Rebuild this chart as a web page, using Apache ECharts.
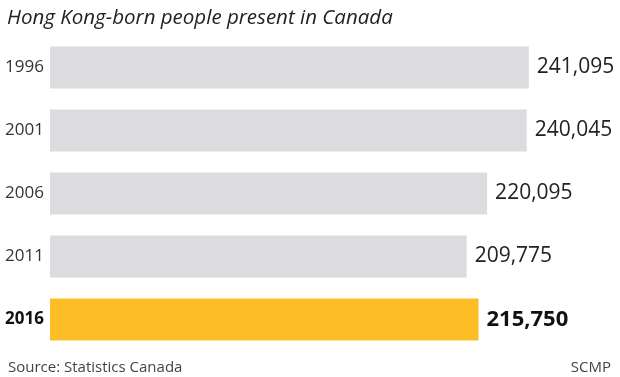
<!DOCTYPE html>
<html><head><meta charset="utf-8">
<script src="https://cdn.jsdelivr.net/npm/echarts@6/dist/echarts.min.js"></script>
<style>html,body{margin:0;padding:0;background:#fff}#c{width:620px;height:377px}</style>
</head><body><div id="c"></div>
<script>
const years = ['1996','2001','2006','2011','2016'];
const people = [241095, 240045, 220095, 209775, 215750];
const highlightYear = '2016';
const titleText = 'Hong Kong-born people present in Canada';
const sourceText = 'Source: Statistics Canada';
const creditText = 'SCMP';

const FONT = '"Open Sans", "Noto Sans", sans-serif';
const chart = echarts.init(document.getElementById('c'), null, {renderer: 'canvas'});
const fmt = v => v.toLocaleString('en-US');
chart.setOption({
  animation: false,
  backgroundColor: '#fff',
  title: [
    {text: titleText, left: 2, top: 3, textStyle: {fontFamily: FONT, fontStyle: 'italic', fontWeight: 'normal', fontSize: 20.5, color: '#222'}},
    {text: sourceText, left: 3, top: 355, textStyle: {fontFamily: FONT, fontWeight: 'normal', fontSize: 15, color: '#444'}},
    {text: creditText, right: 4, top: 355, textStyle: {fontFamily: FONT, fontWeight: 'normal', fontSize: 15, color: '#444'}}
  ],
  grid: {left: 50, right: 0, top: 36, height: 315},
  xAxis: {type: 'value', min: 0, max: 287000, show: false},
  yAxis: {
    type: 'category', data: years, inverse: true,
    axisLine: {show: false}, axisTick: {show: false},
    axisLabel: {
      margin: 45, align: 'left', fontFamily: FONT, fontSize: 17, color: '#333',
      formatter: v => v === highlightYear ? '{b|' + v + '}' : v,
      rich: {b: {fontFamily: FONT, fontSize: 17, fontWeight: 'bold', color: '#111'}}
    }
  },
  series: [{
    type: 'bar', barWidth: 42,
    data: people.map((v, i) => {
      const hl = years[i] === highlightYear;
      return {
        value: v,
        itemStyle: {color: hl ? '#fcbd26' : '#dcdcde'},
        label: hl ? {fontWeight: 'bold', color: '#111', fontSize: 22} : {}
      };
    }),
    label: {show: true, position: 'right', distance: 8, fontFamily: FONT, fontSize: 21, color: '#222',
      formatter: p => fmt(p.value)}
  }]
});
</script></body></html>
